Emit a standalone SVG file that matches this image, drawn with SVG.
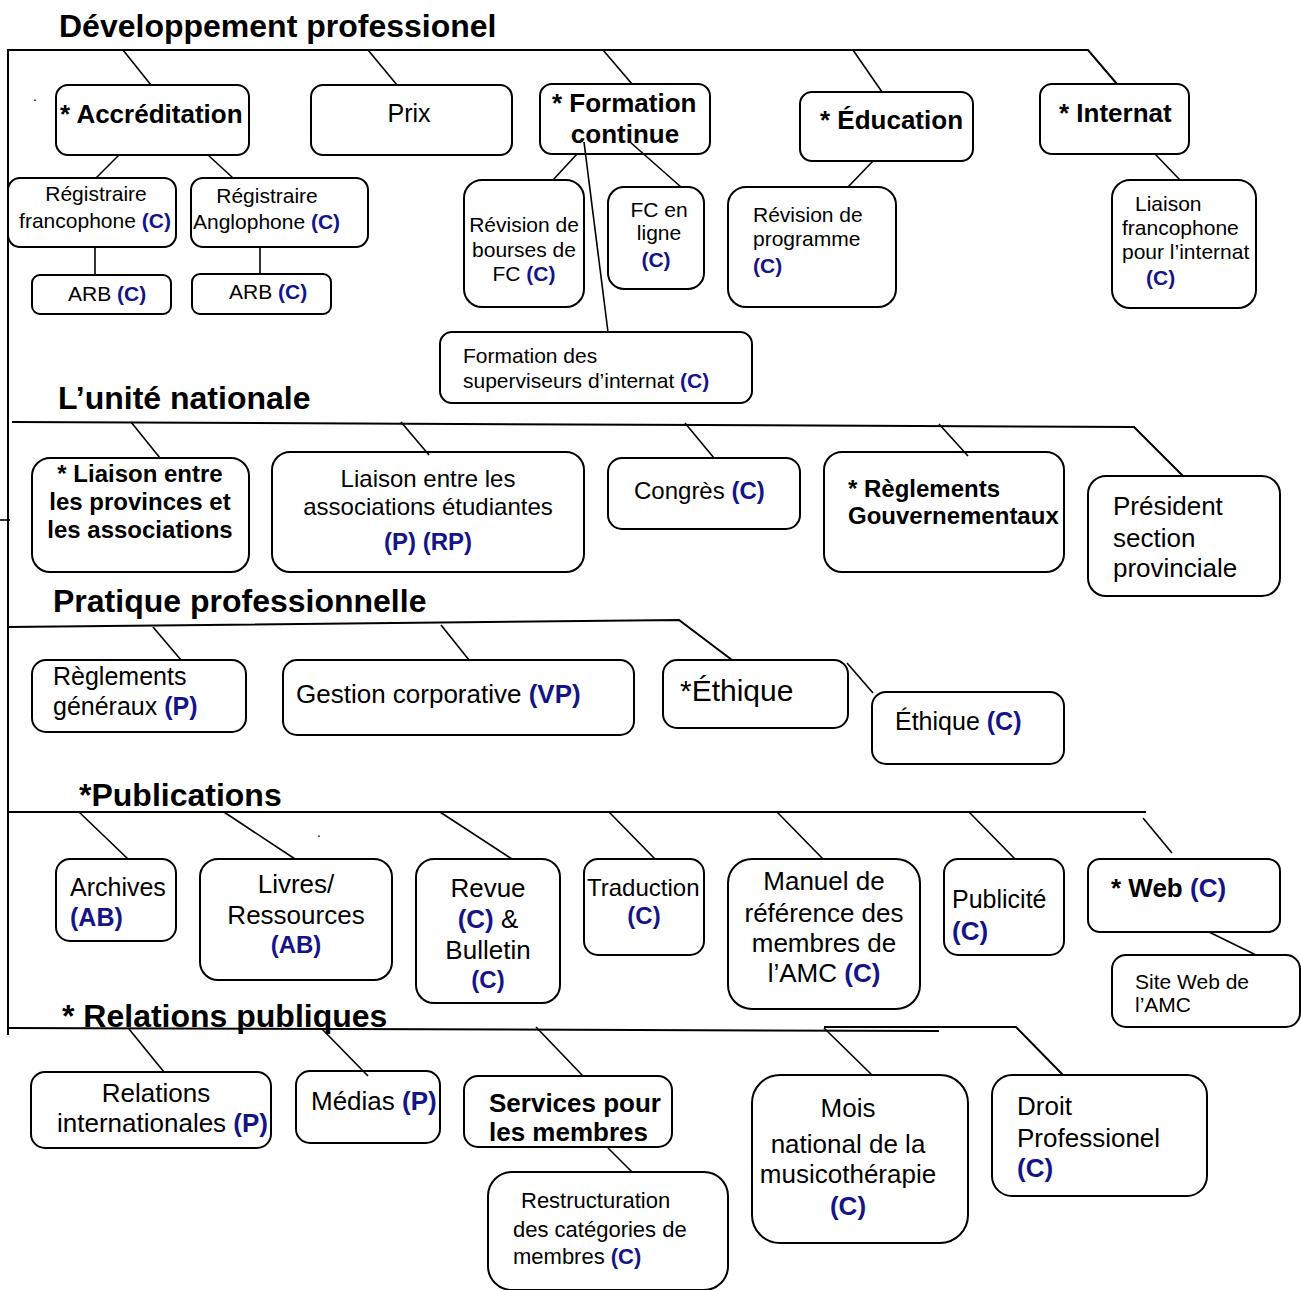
<svg xmlns="http://www.w3.org/2000/svg" width="1301" height="1290" viewBox="0 0 1301 1290">
<style>
text { font-family: "Liberation Sans", Arial, sans-serif; fill: #000; }
.box { fill: #fff; stroke: #000; stroke-width: 2; }
.ln { fill: none; stroke: #000; stroke-width: 1.6; }
.main { fill: none; stroke: #000; stroke-width: 2; }
.ttl { font-size: 32px; font-weight: bold; }
.bd { font-weight: bold; }
.bl { fill: #141488; font-weight: bold; }
.s21 { font-size: 21px; }
.s22 { font-size: 22px; }
.s24 { font-size: 24px; }
.s25 { font-size: 25px; }
.s26 { font-size: 26px; }
.s30 { font-size: 30px; }
.m { text-anchor: middle; }
</style>
<rect width="1301" height="1290" fill="#fff"/>

<!-- section titles -->
<text class="ttl" x="59" y="37">Développement professionel</text>
<text class="ttl" x="58" y="409">L’unité nationale</text>
<text class="ttl" x="53" y="612">Pratique professionnelle</text>
<text class="ttl" x="79" y="806">*Publications</text>
<text class="ttl" x="62" y="1027">* Relations publiques</text>
<text style="font-size:14px" x="33" y="101">.</text>
<text style="font-size:14px" x="317" y="837">.</text>

<!-- Développement professionel -->
<g id="accreditation"><rect class="box" x="56" y="85" width="193" height="70" rx="12"/><text class="s26 bd" x="60" y="123">* Accréditation</text></g>
<g id="prix"><rect class="box" x="311" y="85" width="201" height="70" rx="12"/><text class="s25 m" x="409" y="122">Prix</text></g>
<g id="formation-continue"><rect class="box" x="540" y="84" width="170" height="70" rx="12"/><text class="s26 bd" x="552" y="112">* Formation</text><text class="s26 bd m" x="625" y="143">continue</text></g>
<g id="education"><rect class="box" x="800" y="92" width="173" height="69" rx="12"/><text class="s26 bd" x="820" y="129">* Éducation</text></g>
<g id="internat"><rect class="box" x="1040" y="84" width="149" height="70" rx="12"/><text class="s26 bd" x="1059" y="122">* Internat</text></g>
<g id="registraire-fr"><rect class="box" x="8" y="178" width="168" height="69" rx="12"/><text class="s21 m" x="96" y="201">Régistraire</text><text class="s21 m" x="95" y="228">francophone <tspan class="bl">(C)</tspan></text></g>
<g id="registraire-en"><rect class="box" x="191" y="178" width="177" height="69" rx="12"/><text class="s21 m" x="267" y="203">Régistraire</text><text class="s21" x="193" y="229">Anglophone <tspan class="bl">(C)</tspan></text></g>
<g id="arb-1"><rect class="box" x="32" y="275" width="139" height="39" rx="8"/><text class="s21" x="68" y="301">ARB <tspan class="bl">(C)</tspan></text></g>
<g id="arb-2"><rect class="box" x="192" y="274" width="139" height="40" rx="8"/><text class="s21" x="229" y="299">ARB <tspan class="bl">(C)</tspan></text></g>
<g id="revision-bourses"><rect class="box" x="464" y="180" width="120" height="127" rx="18"/><text class="s21 m" x="524" y="232">Révision de</text><text class="s21 m" x="524" y="257">bourses de</text><text class="s21 m" x="524" y="281">FC <tspan class="bl">(C)</tspan></text></g>
<g id="fc-en-ligne"><rect class="box" x="608" y="187" width="96" height="102" rx="16"/><text class="s21 m" x="659" y="217">FC en</text><text class="s21 m" x="659" y="240">ligne</text><text class="s21 m bl" x="656" y="267">(C)</text></g>
<g id="formation-superviseurs"><rect class="box" x="440" y="332" width="312" height="71" rx="12"/><text class="s21" x="463" y="363">Formation des</text><text class="s21" x="463" y="388">superviseurs d’internat <tspan class="bl">(C)</tspan></text></g>
<g id="revision-programme"><rect class="box" x="728" y="187" width="168" height="120" rx="18"/><text class="s21" x="753" y="222">Révision de</text><text class="s21" x="753" y="246">programme</text><text class="s21 bl" x="753" y="273">(C)</text></g>
<g id="liaison-internat"><rect class="box" x="1112" y="180" width="144" height="128" rx="18"/><text class="s21" x="1135" y="211">Liaison</text><text class="s21" x="1122" y="235">francophone</text><text class="s21" x="1122" y="259">pour l’internat</text><text class="s21 bl" x="1146" y="285">(C)</text></g>

<!-- L'unité nationale -->
<g id="liaison-provinces"><rect class="box" x="32" y="458" width="217" height="114" rx="18"/><text class="s24 bd m" x="140" y="482">* Liaison entre</text><text class="s24 bd m" x="140" y="510">les provinces et</text><text class="s24 bd m" x="140" y="538">les associations</text></g>
<g id="liaison-etudiantes"><rect class="box" x="272" y="452" width="312" height="120" rx="18"/><text class="s24 m" x="428" y="487">Liaison entre les</text><text class="s24 m" x="428" y="515">associations étudiantes</text><text class="s24 m bl" x="428" y="550">(P) (RP)</text></g>
<g id="congres"><rect class="box" x="608" y="458" width="192" height="71" rx="14"/><text class="s24" x="634" y="499">Congrès <tspan class="bl">(C)</tspan></text></g>
<g id="reglements-gouv"><rect class="box" x="824" y="452" width="240" height="120" rx="18"/><text class="s24 bd" x="848" y="497">* Règlements</text><text class="s24 bd" x="848" y="524">Gouvernementaux</text></g>
<g id="president"><rect class="box" x="1088" y="476" width="192" height="120" rx="18"/><text class="s26" x="1113" y="515">Président</text><text class="s26" x="1113" y="547">section</text><text class="s26" x="1113" y="577">provinciale</text></g>

<!-- Pratique professionnelle -->
<g id="reglements-generaux"><rect class="box" x="32" y="660" width="214" height="72" rx="14"/><text class="s25" x="53" y="685">Règlements</text><text class="s25" x="53" y="715">généraux <tspan class="bl">(P)</tspan></text></g>
<g id="gestion"><rect class="box" x="283" y="660" width="351" height="75" rx="14"/><text class="s26" x="296" y="703">Gestion corporative <tspan class="bl">(VP)</tspan></text></g>
<g id="ethique-star"><rect class="box" x="663" y="660" width="185" height="68" rx="14"/><text class="s30" x="680" y="701">*Éthique</text></g>
<g id="ethique-c"><rect class="box" x="872" y="692" width="192" height="72" rx="14"/><text class="s25" x="895" y="730">Éthique <tspan class="bl">(C)</tspan></text></g>

<!-- Publications -->
<g id="archives"><rect class="box" x="56" y="859" width="120" height="82" rx="14"/><text class="s25" x="70" y="896">Archives</text><text class="s25 bl" x="70" y="926">(AB)</text></g>
<g id="livres"><rect class="box" x="200" y="859" width="192" height="121" rx="18"/><text class="s26 m" x="296" y="893">Livres/</text><text class="s26 m" x="296" y="924">Ressources</text><text class="s24 m bl" x="296" y="953">(AB)</text></g>
<g id="revue"><rect class="box" x="416" y="859" width="144" height="144" rx="18"/><text class="s26 m" x="488" y="897">Revue</text><text class="s26 m" x="488" y="928"><tspan class="bl">(C)</tspan> &amp;</text><text class="s26 m" x="488" y="959">Bulletin</text><text class="s24 m bl" x="488" y="988">(C)</text></g>
<g id="traduction"><rect class="box" x="584" y="859" width="120" height="96" rx="14"/><text class="s24" x="587" y="896">Traduction</text><text class="s24 m bl" x="644" y="924">(C)</text></g>
<g id="manuel"><rect class="box" x="728" y="859" width="192" height="150" rx="24"/><text class="s26 m" x="824" y="890">Manuel de</text><text class="s26 m" x="824" y="922">référence des</text><text class="s26 m" x="824" y="952">membres de</text><text class="s26 m" x="824" y="982">l’AMC <tspan class="bl">(C)</tspan></text></g>
<g id="publicite"><rect class="box" x="944" y="859" width="120" height="96" rx="14"/><text class="s25" x="952" y="908">Publicité</text><text class="s26 bl" x="952" y="940">(C)</text></g>
<g id="web"><rect class="box" x="1088" y="859" width="192" height="73" rx="12"/><text class="s26 bd" x="1111" y="897">* Web <tspan class="bl">(C)</tspan></text></g>
<g id="site-web"><rect class="box" x="1112" y="955" width="188" height="72" rx="14"/><text class="s21" x="1135" y="989">Site Web de</text><text class="s21" x="1135" y="1012">l’AMC</text></g>

<!-- Relations publiques -->
<g id="relations-int"><rect class="box" x="31" y="1072" width="240" height="76" rx="14"/><text class="s26 m" x="156" y="1102">Relations</text><text class="s26" x="57" y="1132">internationales <tspan class="bl">(P)</tspan></text></g>
<g id="medias"><rect class="box" x="296" y="1071" width="144" height="72" rx="14"/><text class="s26" x="311" y="1110">Médias <tspan class="bl">(P)</tspan></text></g>
<g id="services"><rect class="box" x="464" y="1076" width="208" height="71" rx="14"/><text class="s26 bd" x="489" y="1112">Services pour</text><text class="s26 bd" x="489" y="1141">les membres</text></g>
<g id="restructuration"><rect class="box" x="488" y="1172" width="240" height="118" rx="24"/><text class="s22" x="521" y="1208">Restructuration</text><text class="s22" x="513" y="1237">des catégories de</text><text class="s22" x="513" y="1264">membres <tspan class="bl">(C)</tspan></text></g>
<g id="mois"><rect class="box" x="752" y="1075" width="216" height="168" rx="28"/><text class="s26 m" x="848" y="1117">Mois</text><text class="s26 m" x="848" y="1153">national de la</text><text class="s26 m" x="848" y="1183">musicothérapie</text><text class="s26 m bl" x="848" y="1215">(C)</text></g>
<g id="droit"><rect class="box" x="992" y="1075" width="215" height="121" rx="20"/><text class="s26" x="1017" y="1115">Droit</text><text class="s26" x="1017" y="1147">Professionel</text><text class="s26 bl" x="1017" y="1177">(C)</text></g>

<g id="connectors">
  <path class="main" d="M8,1035 V50 H1088 L1117,84"/>
  <path class="ln" d="M123,50 L151,85"/>
  <path class="ln" d="M368,50 L397,85"/>
  <path class="ln" d="M603,50 L632,84"/>
  <path class="ln" d="M853,50 L882,92"/>
  <path class="ln" d="M119,155 L96,178"/>
  <path class="ln" d="M208,155 L233,178"/>
  <path class="ln" d="M95,247 V275"/>
  <path class="ln" d="M260,247 V274"/>
  <path class="ln" d="M577,154 L553,180"/>
  <path class="ln" d="M630,142 L681,187"/>
  <path class="ln" d="M584,142 L608,332"/>
  <path class="ln" d="M873,161 L848,187"/>
  <path class="ln" d="M1155,154 L1180,180"/>

  <path class="main" d="M12,422 L1134,427 L1183,476"/>
  <path class="ln" d="M0,520 H10"/>
  <path class="ln" d="M131,422 L160,458"/>
  <path class="ln" d="M401,422 L429,455"/>
  <path class="ln" d="M685,423 L714,458"/>
  <path class="ln" d="M939,424 L968,456"/>

  <path class="main" d="M8,627 L679,620 L732,660"/>
  <path class="ln" d="M153,627 L181,660"/>
  <path class="ln" d="M441,625 L469,660"/>
  <path class="ln" d="M847,663 L873,693"/>

  <path class="main" d="M8,812 H1146"/>
  <path class="ln" d="M79,812 L128,859"/>
  <path class="ln" d="M224,812 L295,859"/>
  <path class="ln" d="M440,812 L512,859"/>
  <path class="ln" d="M609,812 L655,859"/>
  <path class="ln" d="M777,812 L823,859"/>
  <path class="ln" d="M969,812 L1015,859"/>
  <path class="ln" d="M1143,818 L1172,853"/>
  <path class="ln" d="M1209,932 L1256,955"/>

  <path class="main" d="M8,1028 L939,1031"/>
  <path class="main" d="M824,1027 H1016 L1063,1075"/>
  <path class="ln" d="M824,1028 L872,1075"/>
  <path class="ln" d="M129,1029 L164,1072"/>
  <path class="ln" d="M322,1029 L368,1076"/>
  <path class="ln" d="M536,1027 L583,1076"/>
  <path class="ln" d="M608,1148 L632,1172"/>
</g>
</svg>
